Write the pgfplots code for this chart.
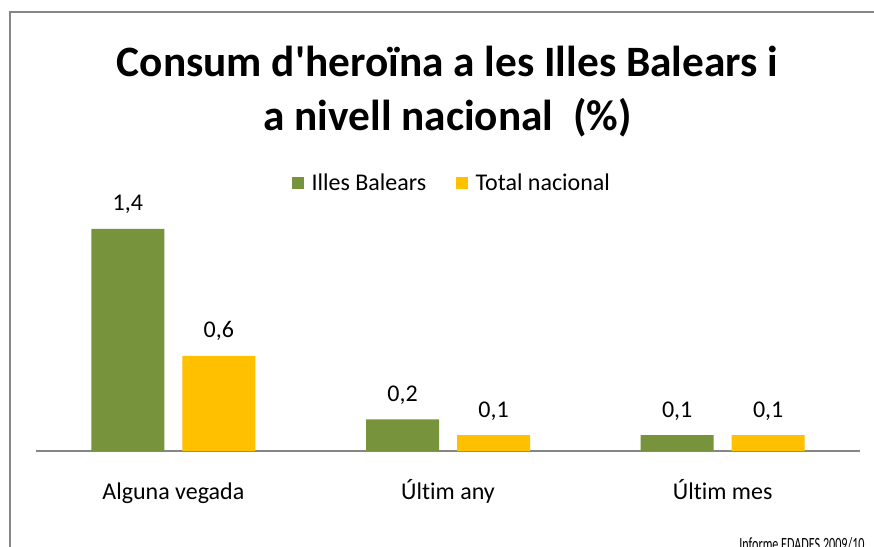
\documentclass[border=0pt]{standalone}
\usepackage{fontspec}
\setmainfont{Carlito}[Ligatures={TeXOff,NoCommon}]
\newfontfamily\estret{Carlito}[FakeStretch=0.65,Ligatures={TeXOff,NoCommon}]
\usepackage{pgfplots}
\pgfplotsset{compat=1.18}
\definecolor{verd}{HTML}{77933C}
\definecolor{groc}{HTML}{FFC000}
\definecolor{vora}{HTML}{868686}
% 1 px del grafic original = 0.75pt
\begin{document}
\begin{tikzpicture}
\useasboundingbox (0pt,0pt) rectangle (655.5pt,409.5pt);
% marc del grafic (tallat a dreta i a baix)
\draw[vora,line width=1.5pt] (7.5pt,-4pt) -- (7.5pt,400.5pt) -- (660pt,400.5pt);
% titol
\node[anchor=base,font=\bfseries\fontsize{32.5}{40}\selectfont] at (335.6pt,352pt) {Consum d'heroïna a les Illes Balears i};
\node[anchor=base,font=\bfseries\fontsize{32.5}{40}\selectfont] at (335.6pt,311.5pt) {a nivell nacional\ \ (\%)};
\begin{axis}[
    at={(27pt,71.25pt)}, anchor=south west,
    scale only axis,
    width=618pt, height=190.3pt,
    ybar=13.5pt, bar width=54.75pt,
    xmin=-0.5, xmax=2.5, ymin=0, ymax=1.6,
    axis x line*=bottom, hide y axis,
    x axis line style={draw=vora,line width=1.5pt,-},
    xtick=data,
    xticklabels={Alguna vegada,Últim any,Últim mes},
    major tick length=0pt,
    xticklabel style={anchor=base,yshift=-36.5pt,font=\fontsize{18}{21}\selectfont},
    nodes near coords,
    every node near coord/.append style={anchor=base,yshift=13.5pt,font=\fontsize{18}{21}\selectfont,black},
    /pgf/number format/.cd, fixed, fixed zerofill, precision=1, use comma, assume math mode=true,
    /pgfplots/.cd,
    legend columns=2,
    legend style={at={(0.505,1.057)},anchor=center,draw=none,fill=none,
      font=\fontsize{18}{21}\selectfont,
      /tikz/every odd column/.append style={column sep=4pt},
      /tikz/every even column/.append style={column sep=20pt}},
    legend image code/.code={\fill[#1,draw=none] (0pt,-4.5pt) rectangle (9pt,4.5pt);},
    ]
\addplot[fill=verd,draw=none] coordinates {(0,1.4) (1,0.2) (2,0.1)};
\addplot[fill=groc,draw=none] coordinates {(0,0.6) (1,0.1) (2,0.1)};
\legend{Illes Balears,Total nacional}
\end{axis}
\node[anchor=base east,font=\estret\fontsize{14}{16}\selectfont] at (652pt,-3pt) {Informe EDADES 2009/10};
\end{tikzpicture}
\end{document}
